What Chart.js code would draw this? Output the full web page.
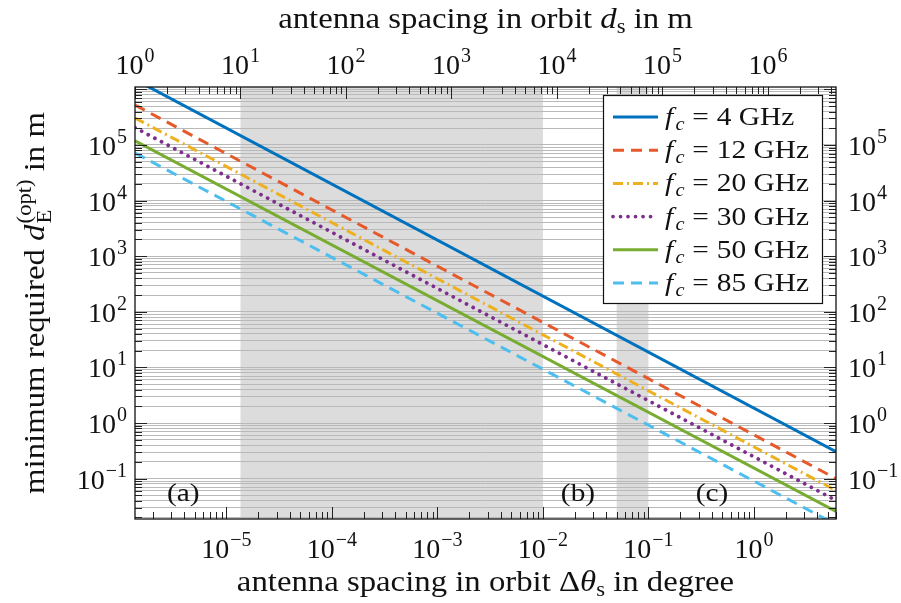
<!DOCTYPE html>
<html>
<head>
<meta charset="utf-8">
<title>Minimum required ground antenna spacing</title>
<script src="https://cdn.jsdelivr.net/npm/chart.js@4.4.1/dist/chart.umd.min.js"></script>
<style>
  html, body { margin: 0; padding: 0; background: #ffffff; }
  #box { width: 901px; height: 603px; }
</style>
</head>
<body>
<div id="box"><canvas id="chart" width="901" height="603"></canvas></div>
<script>
// ---- data ------------------------------------------------------------
const carrierGHz = ['4', '12', '20', '30', '50', '85'];
// orbital angular spacing at both ends of the plotted span (degree)
const spacingDeg = [1.359e-6, 6.0];
// minimum required ground antenna spacing d_E^(opt) in m at those spacings
const dE_4GHz  = [1.50e6, 0.305];
const dE_12GHz = [5.24e5, 0.100];
const dE_20GHz = [3.06e5, 0.0611];
const dE_30GHz = [2.05e5, 0.0405];
const dE_50GHz = [1.19e5, 0.0256];
const dE_85GHz = [7.18e4, 0.0149];
// shaded spacing ranges (degree)
const rangeA = [1.359e-5, 1e-2];
const rangeB = [0.05, 0.1];
// region markers
const regionText = ['(a)', '(b)', '(c)'];
const regionDeg = [3.9e-6, 0.0215, 0.40];
const regionLevel = 0.055;
// axis limits and labelled decades
const yLimits = [0.01877, 1.104e6];
const bottomDecades = [-5, -4, -3, -2, -1, 0];
const topDecades = [0, 1, 2, 3, 4, 5, 6];
const sideDecades = [-1, 0, 1, 2, 3, 4, 5];

// arc length along the geostationary orbit per degree (m)
const metresPerDeg = 42164e3 * Math.PI / 180;

const seriesValues = [dE_4GHz, dE_12GHz, dE_20GHz, dE_30GHz, dE_50GHz, dE_85GHz];
const seriesStyle = [
  { color: '#0072BD', dash: [],            width: 3.0, cap: 'butt'  },
  { color: '#E5592A', dash: [11, 7],       width: 3.0, cap: 'butt'  },
  { color: '#EDB120', dash: [10, 4, 2, 4], width: 3.0, cap: 'butt'  },
  { color: '#7E2F8E', dash: [0.01, 7.5],   width: 3.8, cap: 'round' },
  { color: '#77AC30', dash: [],            width: 3.0, cap: 'butt'  },
  { color: '#4DBEEE', dash: [11, 7],       width: 3.0, cap: 'butt'  }
];

const SERIF = '"Liberation Serif", "Times New Roman", serif';
const SX = 1.13;            // horizontal widening of running text

function logTicks(min, max) {
  const out = [];
  for (let k = Math.floor(Math.log10(min)); k <= Math.ceil(Math.log10(max)); k++) {
    for (let s = 1; s <= 9; s++) {
      const v = s * Math.pow(10, k);
      if (v >= min * 0.9999 && v <= max * 1.0001) out.push({ v, major: s === 1 });
    }
  }
  return out;
}

// draws a sequence of text runs (sub/superscripts via dy) on one baseline
function drawRuns(ctx, runs, x, y, align, sx) {
  sx = sx || 1;
  let w = 0;
  for (const r of runs) {
    ctx.font = r.font;
    r.w = ctx.measureText(r.t).width;
    w += (r.pre || 0) + (r.stay ? 0 : r.w);
  }
  const x0 = align === 'center' ? x - w * sx / 2 : align === 'right' ? x - w * sx : x;
  ctx.save();
  ctx.translate(x0, y);
  ctx.scale(sx, 1);
  ctx.textAlign = 'left';
  ctx.textBaseline = 'alphabetic';
  ctx.fillStyle = '#111';
  let cx = 0;
  for (const r of runs) {
    cx += r.pre || 0;
    ctx.font = r.font;
    ctx.fillText(r.t, cx, r.dy || 0);
    if (!r.stay) cx += r.w;
  }
  ctx.restore();
}

function powerLabel(k) {
  const e = k < 0 ? '\u2212' + Math.abs(k) : String(k);
  return [
    { t: '10', font: `28px ${SERIF}` },
    { t: e, font: `20px ${SERIF}`, dy: -12, pre: 1 }
  ];
}

const datasets = seriesValues.map((vals, i) => ({
  label: `f_c = ${carrierGHz[i]} GHz`,
  data: spacingDeg.map((x, j) => ({ x, y: vals[j] })),
  xAxisID: 'x',
  yAxisID: 'y',
  borderColor: seriesStyle[i].color,
  backgroundColor: seriesStyle[i].color,
  borderWidth: seriesStyle[i].width,
  borderDash: seriesStyle[i].dash,
  borderCapStyle: seriesStyle[i].cap,
  pointRadius: 0,
  tension: 0,
  fill: false,
  clip: 0
}));

const decor = {
  id: 'decor',
  beforeDraw(chart) {
    const { ctx, chartArea: a, scales } = chart;
    ctx.save();
    ctx.fillStyle = '#ffffff';
    ctx.fillRect(0, 0, chart.width, chart.height);
    ctx.fillStyle = '#dcdcdc';
    for (const r of [rangeA, rangeB]) {
      const x0 = scales.x.getPixelForValue(r[0]);
      const x1 = scales.x.getPixelForValue(r[1]);
      ctx.fillRect(x0, a.top, x1 - x0, a.bottom - a.top);
    }
    ctx.restore();
  },
  afterDatasetsDraw(chart) {
    const { ctx, chartArea: a, scales } = chart;
    const xs = scales.x, xt = scales.xTop, ys = scales.y;
    ctx.save();

    // inward tick marks on all four sides
    ctx.strokeStyle = '#222';
    ctx.lineWidth = 1;
    ctx.beginPath();
    for (const t of logTicks(xs.min, xs.max)) {
      const px = Math.round(xs.getPixelForValue(t.v)) + 0.5;
      const len = t.major ? 12 : 7;
      ctx.moveTo(px, a.bottom); ctx.lineTo(px, a.bottom - len);
    }
    for (const t of logTicks(xt.min, xt.max)) {
      const px = Math.round(xt.getPixelForValue(t.v)) + 0.5;
      const len = t.major ? 12 : 7;
      ctx.moveTo(px, a.top); ctx.lineTo(px, a.top + len);
    }
    for (const t of logTicks(ys.min, ys.max)) {
      const py = Math.round(ys.getPixelForValue(t.v)) + 0.5;
      const len = t.major ? 12 : 7;
      ctx.moveTo(a.left, py); ctx.lineTo(a.left + len, py);
      ctx.moveTo(a.right, py); ctx.lineTo(a.right - len, py);
    }
    ctx.stroke();

    // frame
    ctx.strokeStyle = '#111';
    ctx.lineWidth = 1.3;
    ctx.strokeRect(a.left, a.top, a.right - a.left, a.bottom - a.top);

    // tick labels
    for (const k of bottomDecades) {
      drawRuns(ctx, powerLabel(k), xs.getPixelForValue(Math.pow(10, k)), a.bottom + 39, 'center');
    }
    for (const k of topDecades) {
      drawRuns(ctx, powerLabel(k), xt.getPixelForValue(Math.pow(10, k)), a.top - 13, 'center');
    }
    for (const k of sideDecades) {
      const py = ys.getPixelForValue(Math.pow(10, k));
      drawRuns(ctx, powerLabel(k), a.left - 8, py + 10, 'right');
      drawRuns(ctx, powerLabel(k), a.right + 12, py + 10, 'left');
    }

    // axis titles
    const cxm = (a.left + a.right) / 2;
    const F = `29px ${SERIF}`, FI = `italic 29px ${SERIF}`, FS = `20px ${SERIF}`;
    drawRuns(ctx, [
      { t: 'antenna spacing in orbit ', font: F },
      { t: 'd', font: FI },
      { t: 's', font: FS, dy: 5 },
      { t: ' in m', font: F }
    ], cxm, 28, 'center', SX);
    drawRuns(ctx, [
      { t: 'antenna spacing in orbit \u0394', font: F },
      { t: '\u03b8', font: FI },
      { t: 's', font: FS, dy: 5 },
      { t: ' in degree', font: F }
    ], cxm, a.bottom + 72, 'center', SX);
    ctx.save();
    ctx.translate(44, (a.top + a.bottom) / 2);
    ctx.rotate(-Math.PI / 2);
    drawRuns(ctx, [
      { t: 'minimum required ', font: F },
      { t: 'd', font: FI },
      { t: 'E', font: FS, dy: 7, stay: true, pre: 1 },
      { t: '(opt)', font: FS, dy: -13 },
      { t: ' in m', font: F }
    ], 0, 0, 'center', SX);
    ctx.restore();

    // region markers
    regionText.forEach((txt, i) => {
      drawRuns(ctx, [{ t: txt, font: `26px ${SERIF}` }],
        xs.getPixelForValue(regionDeg[i]), ys.getPixelForValue(regionLevel) + 8, 'center', SX);
    });

    // legend
    const lx0 = a.right - 233, ly0 = a.top + 8, lw = 219, lh = 208;
    ctx.fillStyle = '#ffffff';
    ctx.fillRect(lx0, ly0, lw, lh);
    ctx.strokeStyle = '#111';
    ctx.lineWidth = 1.2;
    ctx.strokeRect(lx0 + 0.5, ly0 + 0.5, lw, lh);
    const LF = `26px ${SERIF}`, LFI = `italic 26px ${SERIF}`, LFS = `italic 18px ${SERIF}`;
    datasets.forEach((ds, i) => {
      const yc = ly0 + 22 + i * 33.2;
      ctx.save();
      ctx.strokeStyle = ds.borderColor;
      ctx.lineWidth = ds.borderWidth;
      ctx.setLineDash(ds.borderDash);
      ctx.lineCap = ds.borderCapStyle;
      ctx.beginPath();
      ctx.moveTo(lx0 + 10, yc);
      ctx.lineTo(lx0 + 55, yc);
      ctx.stroke();
      ctx.restore();
      drawRuns(ctx, [
        { t: 'f', font: LFI },
        { t: 'c', font: LFS, dy: 5, pre: 2 },
        { t: '=', font: LF, pre: 7 },
        { t: carrierGHz[i] + ' GHz', font: LF, pre: 7 }
      ], lx0 + 62, yc + 8, 'left', SX);
    });

    ctx.restore();
  }
};

const yTickValues = logTicks(yLimits[0], yLimits[1]);

new Chart(document.getElementById('chart'), {
  type: 'line',
  data: { datasets },
  options: {
    responsive: false,
    animation: false,
    devicePixelRatio: 1,
    layout: { padding: { left: 135, right: 65, top: 87, bottom: 84 } },
    plugins: { legend: { display: false }, tooltip: { enabled: false } },
    scales: {
      x: {
        type: 'logarithmic', position: 'bottom',
        min: spacingDeg[0], max: spacingDeg[1],
        ticks: { display: false },
        grid: { display: false, drawTicks: false },
        border: { display: false }
      },
      xTop: {
        type: 'logarithmic', position: 'top',
        min: spacingDeg[0] * metresPerDeg, max: spacingDeg[1] * metresPerDeg,
        ticks: { display: false },
        grid: { display: false, drawTicks: false },
        border: { display: false }
      },
      y: {
        type: 'logarithmic', position: 'left',
        min: yLimits[0], max: yLimits[1],
        afterBuildTicks(scale) {
          scale.ticks = yTickValues.map(t => ({ value: t.v, major: t.major }));
        },
        ticks: { display: false },
        grid: { display: true, drawTicks: false, color: '#b9b9b9', lineWidth: 1 },
        border: { display: false }
      }
    }
  },
  plugins: [decor]
});
</script>
</body>
</html>
